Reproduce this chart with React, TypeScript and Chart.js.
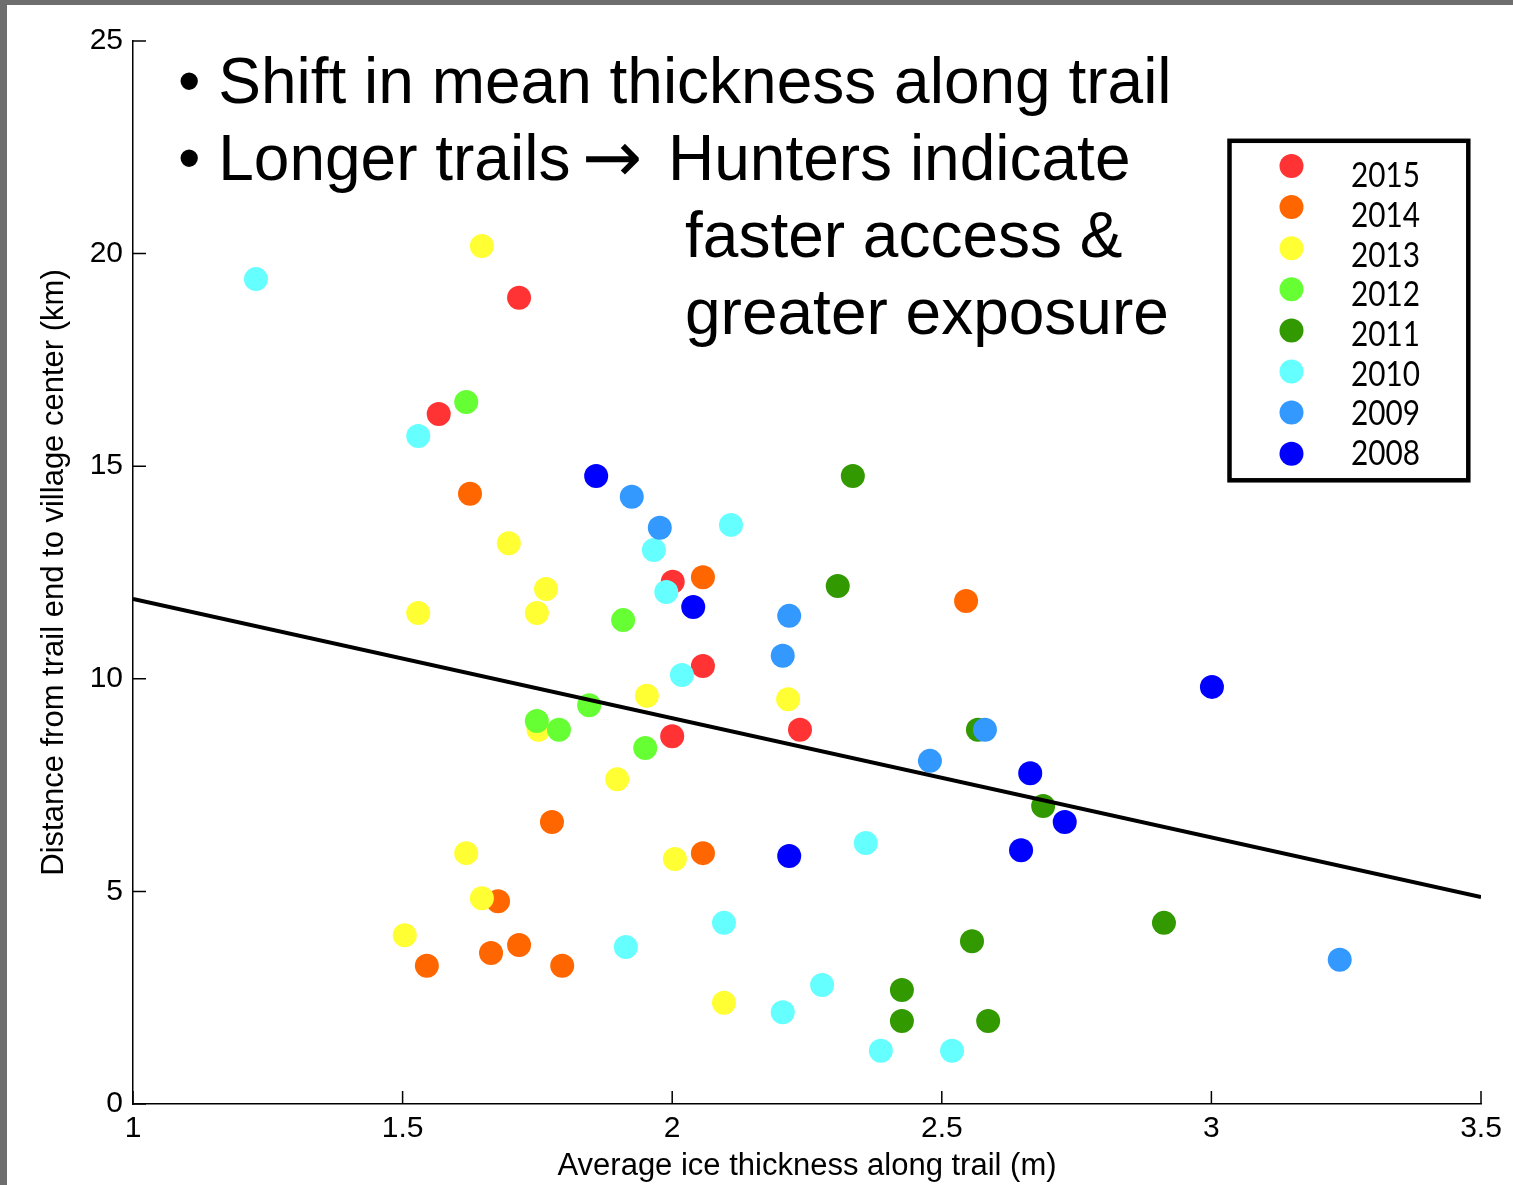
import React, { useEffect, useRef } from 'react';
import { Chart, registerables } from 'chart.js';

Chart.register(...registerables);

// ---------- data ----------
const years = ['2015', '2014', '2013', '2012', '2011', '2010', '2009', '2008'];
const yearColors = ['#ff3333', '#ff6600', '#ffff33', '#66ff33', '#339900', '#66ffff', '#3399ff', '#0000ff'];

const x2015 = [1.716, 1.567, 2.001, 2.057, 2.0, 2.237];
const y2015 = [18.96, 16.23, 12.28, 10.3, 8.65, 8.8];

const x2014 = [1.625, 2.057, 2.545, 1.777, 2.057, 1.677, 1.716, 1.664, 1.545, 1.796];
const y2014 = [14.35, 12.39, 11.83, 6.63, 5.9, 4.77, 3.74, 3.55, 3.25, 3.25];

const x2013 = [1.647, 1.529, 1.697, 1.766, 1.749, 1.953, 2.215, 1.752, 1.898, 1.618, 2.005, 1.647, 1.504, 2.096];
const y2013 = [20.18, 11.55, 13.19, 12.11, 11.55, 9.6, 9.52, 8.8, 7.64, 5.9, 5.76, 4.84, 3.97, 2.38];

const x2012 = [1.618, 1.909, 1.846, 1.749, 1.79, 1.95];
const y2012 = [16.51, 11.38, 9.38, 9.01, 8.8, 8.37];

const x2011 = [2.335, 2.307, 2.567, 2.688, 2.912, 2.556, 2.426, 2.426, 2.586];
const y2011 = [14.77, 12.18, 8.8, 7.01, 4.26, 3.83, 2.68, 1.95, 1.95];

const x2010 = [1.228, 1.529, 2.109, 1.966, 1.989, 2.018, 2.359, 2.096, 1.914, 2.278, 2.205, 2.387, 2.519];
const y2010 = [19.4, 15.71, 13.62, 13.03, 12.04, 10.09, 6.14, 4.26, 3.69, 2.8, 2.16, 1.25, 1.25];

const x2009 = [1.925, 1.977, 2.217, 2.205, 2.478, 2.58, 3.238];
const y2009 = [14.28, 13.55, 11.48, 10.54, 8.07, 8.8, 3.39];

const x2008 = [1.859, 2.039, 3.001, 2.664, 2.728, 2.647, 2.217];
const y2008 = [14.77, 11.69, 9.81, 7.78, 6.63, 5.97, 5.83];

const seriesX = [x2015, x2014, x2013, x2012, x2011, x2010, x2009, x2008];
const seriesY = [y2015, y2014, y2013, y2012, y2011, y2010, y2009, y2008];

const trendX = [1, 3.5];
const trendY = [11.88, 4.87];

const xTicks = [1, 1.5, 2, 2.5, 3, 3.5];
const yTicks = [0, 5, 10, 15, 20, 25];

const xTitle = 'Average ice thickness along trail (m)';
const yTitle = 'Distance from trail end to village center (km)';

const noteLine1 = '• Shift in mean thickness along trail';
const noteLine2a = '• Longer trails';
const noteArrow = '→';
const noteLine2b = 'Hunters indicate';
const noteLine3 = 'faster access &';
const noteLine4 = 'greater exposure';

// ---------- styling ----------
const SANS = "'Liberation Sans', Arial, Helvetica, sans-serif";

const overlayPlugin = {
  id: 'overlayPlugin',
  afterDraw(chart: any) {
    const ctx = chart.ctx as CanvasRenderingContext2D;
    const xs = chart.scales.x;
    const ys = chart.scales.y;
    const area = chart.chartArea;

    // inward tick marks (MATLAB style)
    ctx.save();
    ctx.strokeStyle = '#000';
    ctx.lineWidth = 1.5;
    ctx.beginPath();
    xTicks.forEach((v) => {
      const px = xs.getPixelForValue(v);
      ctx.moveTo(px, area.bottom);
      ctx.lineTo(px, area.bottom - 13);
    });
    yTicks.forEach((v) => {
      const py = ys.getPixelForValue(v);
      ctx.moveTo(area.left, py);
      ctx.lineTo(area.left + 13, py);
    });
    ctx.stroke();
    ctx.restore();

    // annotation text
    ctx.save();
    ctx.fillStyle = '#000';
    ctx.textBaseline = 'alphabetic';
    ctx.textAlign = 'left';
    ctx.font = `64px ${SANS}`;
    ctx.fillText(noteLine1, 178, 103);
    ctx.fillText(noteLine2a, 178, 180);
    ctx.fillText(noteLine2b, 668, 180);
    ctx.fillText(noteLine3, 685, 257);
    ctx.fillText(noteLine4, 685, 334);
    ctx.font = `72px 'DejaVu Sans', sans-serif`;
    ctx.fillText(noteArrow, 582, 182);
    ctx.restore();

    // legend box
    ctx.save();
    ctx.fillStyle = '#fff';
    ctx.fillRect(1229.5, 140.8, 238.8, 339.5);
    ctx.strokeStyle = '#000';
    ctx.lineWidth = 4.5;
    ctx.strokeRect(1229.5, 140.8, 238.8, 339.5);
    years.forEach((yr, i) => {
      const cy = 166 + i * 41.1;
      ctx.beginPath();
      ctx.fillStyle = yearColors[i];
      ctx.arc(1291.5, cy, 12, 0, Math.PI * 2);
      ctx.fill();
      const ty = 176 + i * 39.7;
      ctx.save();
      ctx.translate(1351, ty);
      ctx.scale(0.85, 1);
      ctx.fillStyle = '#000';
      ctx.font = `35px Lato, 'DejaVu Sans', sans-serif`;
      ctx.textBaseline = 'middle';
      ctx.textAlign = 'left';
      ctx.fillText(yr, 0, 0);
      ctx.restore();
    });
    ctx.restore();
  },
};

export default function App() {
  const canvasRef = useRef<HTMLCanvasElement | null>(null);

  useEffect(() => {
    const canvas = canvasRef.current;
    if (!canvas) return;

    const scatterSets = years.map((yr, i) => ({
      type: 'scatter' as const,
      label: yr,
      data: seriesX[i].map((x, j) => ({ x, y: seriesY[i][j] })),
      backgroundColor: yearColors[i],
      borderColor: yearColors[i],
      borderWidth: 0,
      pointRadius: 12,
      pointHoverRadius: 12,
      order: years.length - i,
    }));

    const trendSet = {
      type: 'scatter' as const,
      label: 'fit',
      data: trendX.map((x, j) => ({ x, y: trendY[j] })),
      showLine: true,
      borderColor: '#000',
      backgroundColor: '#000',
      borderWidth: 4,
      pointRadius: 0,
      order: 0,
    };

    const tickFont = { family: SANS, size: 30 };
    const titleFont = { family: SANS, size: 31 };

    const chart = new Chart(canvas, {
      type: 'scatter',
      data: { datasets: [...scatterSets, trendSet] as any },
      options: {
        animation: false,
        responsive: false,
        maintainAspectRatio: false,
        layout: { padding: { left: 0, right: 32, top: 41, bottom: 0 } },
        plugins: {
          legend: { display: false },
          tooltip: { enabled: false },
        },
        scales: {
          x: {
            type: 'linear',
            min: 1,
            max: 3.5,
            afterBuildTicks: (s: any) => {
              s.ticks = xTicks.map((v) => ({ value: v }));
            },
            afterFit: (s: any) => {
              s.height = 81;
            },
            grid: { display: false, drawTicks: false },
            border: { display: true, color: '#000', width: 1.5 },
            ticks: {
              padding: 7,
              color: '#000',
              font: tickFont,
              maxRotation: 0,
              callback: (v: any) => String(v),
            },
            title: {
              display: true,
              text: xTitle,
              color: '#000',
              font: titleFont,
              padding: { top: 0, bottom: 0 },
            },
          },
          y: {
            type: 'linear',
            min: 0,
            max: 25,
            afterBuildTicks: (s: any) => {
              s.ticks = yTicks.map((v) => ({ value: v }));
            },
            afterFit: (s: any) => {
              s.width = 133;
            },
            grid: { display: false, drawTicks: false },
            border: { display: true, color: '#000', width: 1.5 },
            ticks: {
              padding: 10,
              color: '#000',
              font: tickFont,
              callback: (v: any) => String(v),
            },
            title: {
              display: true,
              text: yTitle,
              color: '#000',
              font: titleFont,
              padding: { top: 36, bottom: 0 },
            },
          },
        },
      } as any,
      plugins: [overlayPlugin],
    });

    return () => {
      chart.destroy();
    };
  }, []);

  return (
    <div
      style={{
        position: 'fixed',
        left: 0,
        top: 0,
        width: 1513,
        height: 1185,
        background: '#ffffff',
        overflow: 'hidden',
      }}
    >
      <div style={{ position: 'absolute', left: 0, top: 0, width: 1513, height: 5, background: '#6e6e6e' }} />
      <div style={{ position: 'absolute', left: 0, top: 0, width: 7, height: 1185, background: '#6e6e6e' }} />
      <canvas
        ref={canvasRef}
        width={1513}
        height={1185}
        style={{ position: 'absolute', left: 0, top: 0, width: 1513, height: 1185 }}
      />
    </div>
  );
}
